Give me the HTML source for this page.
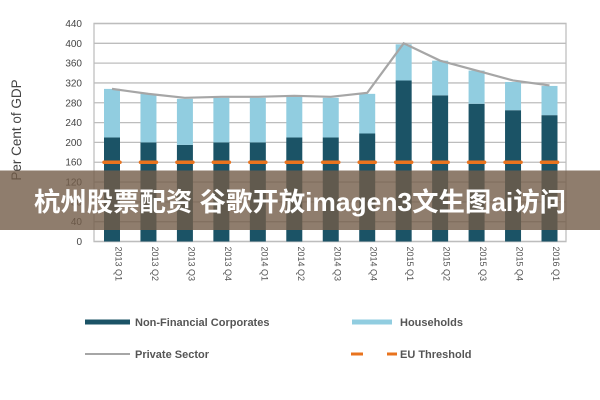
<!DOCTYPE html>
<html><head><meta charset="utf-8"><style>
html,body{margin:0;padding:0;background:#fff;width:600px;height:400px;overflow:hidden}
svg{display:block}
text{font-family:"Liberation Sans","Noto Sans CJK SC",sans-serif}
</style></head><body>
<svg id="chart" width="600" height="400"></svg>
<script>
const categories=["2013 Q1","2013 Q2","2013 Q3","2013 Q4","2014 Q1","2014 Q2","2014 Q3","2014 Q4","2015 Q1","2015 Q2","2015 Q3","2015 Q4","2016 Q1"];
const nfc=[210,200,195,200,200,210,210,218,325,295,278,265,255];
const households=[98,98,93,90,90,82,80,80,73,70,67,57,59];
const privateSector=[308,298,290,292,292,294,292,300,400,365,345,325,315];
const threshold=[160,160,160,160,160,160,160,160,160,160,160,160,160];
const yTicks=[0,40,80,120,160,200,240,280,320,360,400,440];
const NS="http://www.w3.org/2000/svg";
const svg=document.getElementById('chart');
const L=94,R=566,T=23.5,B=241.5,yMax=440;
const y=v=>B-(v/yMax)*(B-T);
const step=(549.5-112)/12;
const x=i=>112+i*step;
const bw=16;
function el(tag,attrs,parent){const e=document.createElementNS(NS,tag);for(const k in attrs)e.setAttribute(k,attrs[k]);(parent||svg).appendChild(e);return e;}
const frame=el('rect',{x:L,y:T,width:R-L,height:B-T,fill:'none',stroke:'#c8c8c8','stroke-width':1.5});


yTicks.forEach(t=>{
  const g=el('line',{x1:L,x2:R,y1:y(t),y2:y(t),stroke:'#bdbdbd','stroke-width':1.3});
  
  
  const tx=el('text',{x:L-12,y:y(t)+3.5,'text-anchor':'end','font-size':10,fill:'#444'});
  tx.textContent=t;
  
  
});
categories.forEach((c,i)=>{
  const b1=el('rect',{x:x(i)-bw/2,y:y(nfc[i]),width:bw,height:B-y(nfc[i]),fill:'#1b5366'});
  
  
  const top=nfc[i]+households[i];
  const b2=el('rect',{x:x(i)-bw/2,y:y(top),width:bw,height:y(nfc[i])-y(top),fill:'#91cde0'});
  
  
  const tl=el('text',{transform:`translate(${x(i)+3.5},${B+5}) rotate(90)`,'font-size':9,fill:'#555','text-anchor':'start'});
  tl.textContent=c;
  
  
});
const pts=privateSector.map((v,i)=>x(i)+','+y(v)).join(' ');
const line=el('polyline',{points:pts,fill:'none',stroke:'#a6a6a6','stroke-width':2.2});


threshold.forEach((v,i)=>{
  const d=el('line',{x1:x(i)-8,x2:x(i)+8,y1:y(v),y2:y(v),stroke:'#e8731e','stroke-width':3.5,'stroke-linecap':'round'});
  
  
});
</script>
<svg style="position:absolute;left:0;top:0" width="600" height="400">
<text transform="translate(21,130) rotate(-90)" text-anchor="middle" font-size="13.5" fill="#444">Per Cent of GDP</text>
<g font-size="11" font-weight="bold" fill="#555">
<rect x="85" y="319.5" width="45" height="5" fill="#1b5366"/>
<text x="135" y="326">Non-Financial Corporates</text>
<rect x="352" y="319.5" width="40" height="5" fill="#91cde0"/>
<text x="400" y="326">Households</text>
<line x1="85" x2="130" y1="354" y2="354" stroke="#a6a6a6" stroke-width="2"/>
<text x="135" y="358">Private Sector</text>
<line x1="351" x2="363" y1="354" y2="354" stroke="#e8731e" stroke-width="3"/>
<line x1="387" x2="397" y1="354" y2="354" stroke="#e8731e" stroke-width="3"/>
<text x="400" y="358">EU Threshold</text>
</g>
<rect x="0" y="170.5" width="600" height="59.5" fill="rgba(115,92,72,0.8)"/>
<text x="300" y="211" text-anchor="middle" font-size="26" font-weight="bold" fill="#fff" textLength="532" lengthAdjust="spacingAndGlyphs">杭州股票配资 谷歌开放imagen3文生图ai访问</text>
</svg>
</body></html>
